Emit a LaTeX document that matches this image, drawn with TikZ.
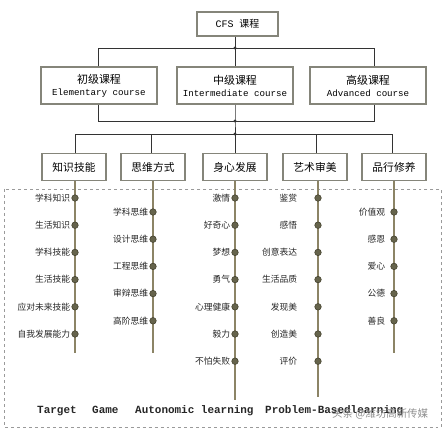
\documentclass[tikz,border=0pt]{standalone}
\usepackage{fontspec}
\setmainfont{Liberation Mono}
\newfontfamily\cjk{Noto Sans CJK SC}
\newfontfamily\mono{Liberation Mono}
\definecolor{boxc}{HTML}{85857A}
\definecolor{stemc}{HTML}{8C8466}
\definecolor{dotf}{HTML}{66644C}
\definecolor{dotd}{HTML}{45432F}
\definecolor{linec}{HTML}{333333}
\definecolor{dashc}{HTML}{9A9A9A}
\begin{document}
\begin{tikzpicture}[x=1bp,y=-1bp,
  topbox/.style={draw=boxc,line width=1.4bp,fill=white,minimum width=81bp,minimum height=24bp,inner sep=0pt,font=\fontsize{10}{12}\selectfont},
  lvlbox/.style={draw=boxc,line width=1.4bp,fill=white,minimum width=116bp,minimum height=37bp,inner sep=0pt,align=center,font=\fontsize{9.2}{11}\selectfont},
  catbox/.style={draw=boxc,line width=1.4bp,fill=white,minimum width=64bp,minimum height=27bp,inner sep=0pt,font=\cjk\fontsize{10.8}{12}\selectfont},
  conn/.style={draw=linec,line width=0.8bp},
  stem/.style={draw=stemc,line width=2.6bp},
  jdot/.style={circle,fill=linec,inner sep=0pt,minimum size=3.2bp},
  itemdot/.style={circle,draw=dotd,fill=dotf,line width=0.6bp,inner sep=0pt,minimum size=6.5bp},
  lbl/.style={anchor=east,inner sep=0pt,text=black!85,font=\cjk\fontsize{8.8}{10}\selectfont},
  foot/.style={anchor=base west,inner sep=0pt,text=black!85,font=\mono\bfseries\fontsize{11}{12}\selectfont}
]
\useasboundingbox (0,0) rectangle (445,433);
% dashed frame
\draw[dashc,dashed,line width=0.7bp] (4,189) rectangle (441,427);

% top
\node[topbox] (cfs) at (237.5,24) {CFS {\cjk 课程}};
\node[lvlbox] (ele) at (99,85.5) {{\cjk\fontsize{11}{13}\selectfont 初级课程}\\[1bp]{\mono Elementary course}};
\node[lvlbox] (med) at (235,85.5) {{\cjk\fontsize{11}{13}\selectfont 中级课程}\\[1bp]{\mono Intermediate course}};
\node[lvlbox] (adv) at (368,85.5) {{\cjk\fontsize{11}{13}\selectfont 高级课程}\\[1bp]{\mono Advanced course}};

\node[catbox] (c1) at (74,167) {知识技能};
\node[catbox] (c2) at (153,167) {思维方式};
\node[catbox] (c3) at (235,167) {身心发展};
\node[catbox] (c4) at (315,167) {艺术审美};
\node[catbox] (c5) at (394,167) {品行修养};

% tree connectors
\coordinate (j1) at (235,48);
\coordinate (h1L) at (98,48);
\coordinate (h1R) at (374,48);
\coordinate (j2) at (235,121);
\coordinate (h2L) at (98,121);
\coordinate (h2R) at (374,121);
\coordinate (j3) at (235,134);
\coordinate (h3L) at (75,134);
\coordinate (h3R) at (392,134);
\draw[conn] (cfs.south -| j1) -- (j1);
\draw[conn] (h1L |- ele.north) -- (h1L) -- (h1R) -- (h1R |- adv.north);
\draw[conn] (j1) -- (j1 |- med.north);
\draw[conn] (h2L |- ele.south) -- (h2L) -- (h2R) -- (h2R |- adv.south);
\draw[conn] (j2 |- med.south) -- (j2) -- (j3);
\draw[conn] (h3L |- c1.north) -- (h3L) -- (h3R) -- (h3R |- c5.north);
\draw[conn] (c2.north -| 151,0) -- (151,134);
\draw[conn] (j3) -- (c3.north);
\draw[conn] (c4.north -| 316,0) -- (316,134);
\node[jdot] at (j1) {};
\node[jdot] at (j2) {};
\node[jdot] at (j3) {};

% stems
\coordinate (e1) at (75,353);
\coordinate (e2) at (153,353);
\coordinate (e3) at (235,400);
\coordinate (e4) at (318,397);
\coordinate (e5) at (394,353);
\draw[stem] (c1.south -| e1) -- (e1);
\draw[stem] (c2.south -| e2) -- (e2);
\draw[stem] (c3.south -| e3) -- (e3);
\draw[stem] (c4.south -| e4) -- (e4);
\draw[stem] (c5.south -| e5) -- (e5);

% items
\foreach \t [count=\i] in {学科知识,生活知识,学科技能,生活技能,应对未来技能,自我发展能力}{
  \node[itemdot] (a\i) at (75,{198+(\i-1)*27.2}) {};
  \node[lbl] (la\i) at ([xshift=-1bp]a\i.west) {\t};
}
\foreach \t [count=\i] in {学科思维,设计思维,工程思维,审辩思维,高阶思维}{
  \node[itemdot] (b\i) at (153,{212+(\i-1)*27.2}) {};
  \node[lbl] (lb\i) at ([xshift=-1bp]b\i.west) {\t};
}
\foreach \t [count=\i] in {激情,好奇心,梦想,勇气,心理健康,毅力,不怕失败}{
  \node[itemdot] (d\i) at (235,{198+(\i-1)*27.2}) {};
  \node[lbl] (ld\i) at ([xshift=-1bp]d\i.west) {\t};
}
\foreach \t [count=\i] in {鉴赏,感悟,创意表达,生活品质,发现美,创造美,评价}{
  \node[itemdot] (f\i) at (318,{198+(\i-1)*27.2}) {};
  \node[lbl] (lf\i) at ([xshift=-17bp]f\i.west) {\t};
}
\foreach \t [count=\i] in {价值观,感恩,爱心,公德,善良}{
  \node[itemdot] (g\i) at (394,{212+(\i-1)*27.2}) {};
  \node[lbl] (lg\i) at ([xshift=-5bp]g\i.west) {\t};
}

% footer
\node[foot] (t1) at (37,413.5) {Target};
\node[foot] (t2) at (92,413.5) {Game};
\node[foot] (t3) at (135,413.5) {Autonomic learning};
\node[foot] (t4) at (265,413.5) {Problem-Basedlearning};
\node[anchor=west,inner sep=0pt,text=black!45,font=\cjk\fontsize{10.5}{12}\selectfont] (wm) at (332,414) {头条 @潍坊高新传媒};
\end{tikzpicture}
\end{document}
